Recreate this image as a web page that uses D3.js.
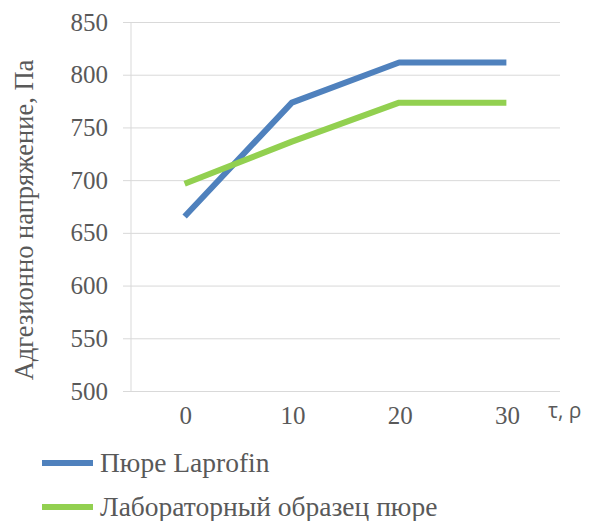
<html lang="ru">
<head>
<meta charset="UTF-8"/>
<title>Адгезионно напряжение</title>
<script src="https://d3js.org/d3.v7.min.js"></script>
<style>
    body { margin: 0; background: #fff; }
    text { fill: #595959; }
    .serif { font-family: "Times New Roman", "Liberation Serif", "DejaVu Serif", serif; }
</style>
</head>
<body>
<script>
    // data
    var categories = ["0", "10", "20", "30"];
    var seriesNames = ["Пюре Laprofin", "Лабораторный образец пюре"];
    var laprofin = [666, 774, 812, 812];
    var labSample = [697, 737, 774, 774];
    var yTicks = [500, 550, 600, 650, 700, 750, 800, 850];
    var colors = ["#4F81BD", "#92D050"];

    var w = 589, h = 521;
    var plotLeft = 131, plotRight = 560, plotTop = 22.5, plotBottom = 391.5;

    var svg = d3.select("body").append("svg")
        .attr("width", w)
        .attr("height", h);

    var xScale = d3.scaleBand()
        .domain(categories)
        .range([plotLeft, plotRight]);

    var yScale = d3.scaleLinear()
        .domain([500, 850])
        .range([plotBottom, plotTop]);

    // gridlines
    svg.append("g")
        .selectAll("line")
        .data(yTicks)
        .enter()
        .append("line")
        .attr("x1", plotLeft - 8)
        .attr("x2", plotRight)
        .attr("y1", function(d) { return yScale(d); })
        .attr("y2", function(d) { return yScale(d); })
        .attr("stroke", "#d9d9d9")
        .attr("stroke-width", 1);

    // y axis line
    svg.append("line")
        .attr("x1", plotLeft).attr("x2", plotLeft)
        .attr("y1", plotTop).attr("y2", plotBottom)
        .attr("stroke", "#d9d9d9");

    // y tick labels
    svg.append("g")
        .selectAll("text")
        .data(yTicks)
        .enter()
        .append("text")
        .attr("class", "serif")
        .attr("x", 108)
        .attr("y", function(d) { return yScale(d) + 8; })
        .attr("text-anchor", "end")
        .attr("font-size", 25)
        .text(function(d) { return d; });

    // x tick labels
    svg.append("g")
        .selectAll("text")
        .data(categories)
        .enter()
        .append("text")
        .attr("class", "serif")
        .attr("x", function(d) { return xScale(d) + xScale.bandwidth() / 2 + 1; })
        .attr("y", 424)
        .attr("text-anchor", "middle")
        .attr("font-size", 25)
        .text(function(d) { return d; });

    svg.append("text")
        .attr("x", 548)
        .attr("y", 418)
        .attr("font-family", "Open Sans")
        .attr("font-size", 21)
        .text("τ, ρ");

    svg.append("text")
        .attr("class", "serif")
        .attr("transform", "translate(33,220) rotate(-90)")
        .attr("text-anchor", "middle")
        .attr("font-size", 26.5)
        .text("Адгезионно напряжение, Па");

    var line = d3.line()
        .x(function(d, i) { return xScale(categories[i]) + xScale.bandwidth() / 2; })
        .y(function(d) { return yScale(d); });

    [laprofin, labSample].forEach(function(values, k) {
        svg.append("path")
            .datum(values)
            .attr("d", line)
            .attr("fill", "none")
            .attr("stroke", colors[k])
            .attr("stroke-width", 6)
            .attr("stroke-linejoin", "round");
    });

    // legend
    var legend = svg.append("g")
        .selectAll("g")
        .data(seriesNames)
        .enter()
        .append("g")
        .attr("transform", function(d, i) { return "translate(42," + (463 + i * 44) + ")"; });

    legend.append("line")
        .attr("x1", 0).attr("x2", 51)
        .attr("stroke", function(d, i) { return colors[i]; })
        .attr("stroke-width", 6);

    legend.append("text")
        .attr("class", "serif")
        .attr("x", 58)
        .attr("y", 9)
        .attr("font-size", 27.5)
        .text(function(d) { return d; });
</script>
</body>
</html>
